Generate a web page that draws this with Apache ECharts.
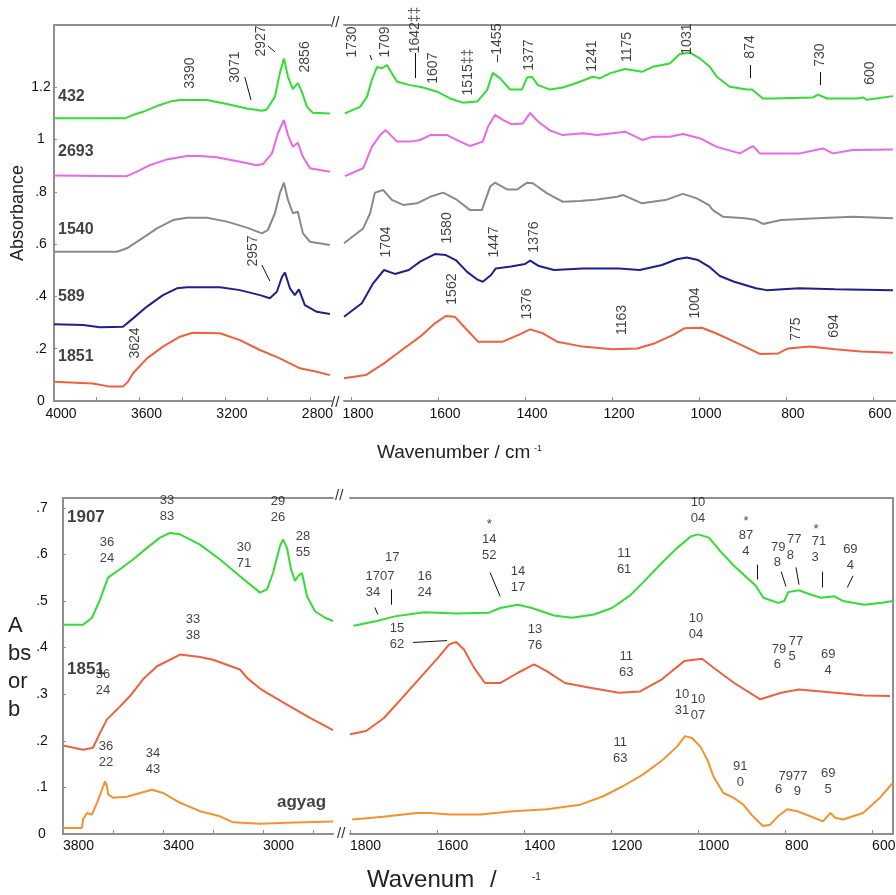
<!DOCTYPE html>
<html><head><meta charset="utf-8">
<script src="https://cdn.jsdelivr.net/npm/echarts@6/dist/echarts.min.js"></script>
<style>html,body{margin:0;padding:0;background:#fff}#c{width:896px;height:895px}</style>
</head><body><div id="c"></div>
<script>
// ---------- tick / label values ----------
const topLeftXLabels = [4000, 3600, 3200, 2800];
const topLeftXTicks = [4000, 3800, 3600, 3400, 3200, 3000, 2800];
const topRightXLabels = [1800, 1600, 1400, 1200, 1000, 800, 600];
const topRightXTicks = [1800, 1600, 1400, 1200, 1000, 800, 600];
const topYLabels = [0, 0.2, 0.4, 0.6, 0.8, 1.0, 1.2];
const botLeftXLabels = [3800, 3400, 3000];
const botLeftXTicks = [3800, 3600, 3400, 3200, 3000, 2800];
const botRightXLabels = [1800, 1600, 1400, 1200, 1000, 800, 600];
const botRightXTicks = [1800, 1600, 1400, 1200, 1000, 800, 600];
const botYLabels = [0, 0.1, 0.2, 0.3, 0.4, 0.5, 0.6, 0.7];

// ---------- top panel spectra (wavenumber, absorbance) ----------
const top432L = [[4000,1.081],[3668,1.081],[3630,1.094],[3584,1.106],[3518,1.128],[3457,1.145],[3411,1.151],[3284,1.151],[3191,1.136],[3097,1.119],[3027,1.110],[3004,1.115],[2966,1.164],[2943,1.254],[2924,1.310],[2905,1.240],[2882,1.193],[2859,1.216],[2840,1.183],[2816,1.125],[2788,1.102],[2709,1.100]];
const top432R = [[1814,1.100],[1779,1.125],[1763,1.164],[1752,1.228],[1740,1.278],[1729,1.272],[1717,1.285],[1706,1.253],[1694,1.221],[1664,1.208],[1634,1.199],[1602,1.183],[1572,1.157],[1543,1.141],[1510,1.145],[1487,1.189],[1474,1.255],[1457,1.234],[1434,1.191],[1407,1.191],[1395,1.237],[1384,1.240],[1370,1.208],[1342,1.191],[1313,1.199],[1280,1.217],[1244,1.240],[1228,1.234],[1205,1.253],[1170,1.270],[1131,1.259],[1106,1.278],[1067,1.291],[1044,1.327],[1021,1.332],[998,1.310],[975,1.278],[959,1.240],[929,1.202],[890,1.191],[878,1.191],[853,1.157],[830,1.157],[738,1.161],[726,1.172],[706,1.157],[637,1.157],[623,1.161],[614,1.152],[554,1.166]];
const top2693L = [[4000,0.862],[3659,0.860],[3612,0.877],[3551,0.902],[3471,0.924],[3378,0.937],[3317,0.937],[3238,0.932],[3130,0.915],[3050,0.902],[3022,0.906],[2980,0.947],[2952,1.024],[2924,1.075],[2905,1.017],[2882,0.972],[2859,0.988],[2835,0.934],[2802,0.890],[2709,0.877]];
const top2693R = [[1814,0.860],[1772,0.890],[1752,0.972],[1733,1.017],[1720,1.036],[1694,0.992],[1664,0.992],[1641,0.998],[1618,1.017],[1579,1.017],[1556,0.998],[1526,0.975],[1497,0.992],[1485,1.049],[1469,1.094],[1451,1.075],[1430,1.058],[1405,1.061],[1388,1.102],[1372,1.072],[1342,1.034],[1313,1.017],[1267,1.024],[1234,1.017],[1198,1.024],[1170,1.030],[1129,0.998],[1106,1.011],[1067,1.011],[1037,1.021],[998,1.005],[959,0.972],[906,0.947],[876,0.975],[860,0.947],[768,0.947],[715,0.966],[692,0.947],[646,0.960],[554,0.962]];
const top1540L = [[4000,0.571],[3705,0.571],[3659,0.584],[3598,0.616],[3518,0.660],[3443,0.692],[3378,0.701],[3284,0.701],[3191,0.686],[3097,0.663],[3027,0.641],[2999,0.654],[2966,0.718],[2943,0.795],[2924,0.835],[2905,0.769],[2882,0.718],[2859,0.724],[2835,0.641],[2802,0.609],[2709,0.597]];
const top1540R = [[1816,0.603],[1772,0.660],[1756,0.718],[1745,0.797],[1726,0.807],[1706,0.769],[1680,0.750],[1648,0.756],[1618,0.781],[1588,0.797],[1556,0.769],[1526,0.730],[1499,0.730],[1480,0.820],[1469,0.835],[1441,0.809],[1418,0.809],[1395,0.835],[1382,0.833],[1349,0.794],[1313,0.762],[1274,0.765],[1234,0.771],[1188,0.781],[1175,0.788],[1131,0.756],[1074,0.770],[1037,0.792],[1005,0.775],[977,0.749],[968,0.730],[945,0.705],[894,0.699],[869,0.692],[853,0.677],[811,0.692],[729,0.699],[646,0.705],[554,0.699]];
const top589L = [[4000,0.294],[3864,0.291],[3785,0.282],[3677,0.284],[3630,0.316],[3565,0.361],[3490,0.405],[3425,0.431],[3378,0.435],[3223,0.435],[3130,0.424],[3036,0.405],[2990,0.393],[2957,0.418],[2933,0.475],[2919,0.491],[2896,0.431],[2873,0.405],[2854,0.427],[2826,0.367],[2770,0.341],[2709,0.333]];
const top589R = [[1816,0.322],[1775,0.374],[1749,0.450],[1724,0.501],[1699,0.486],[1667,0.501],[1641,0.533],[1607,0.562],[1582,0.558],[1559,0.539],[1533,0.494],[1508,0.463],[1497,0.456],[1478,0.482],[1467,0.507],[1432,0.514],[1400,0.524],[1388,0.537],[1368,0.516],[1333,0.501],[1267,0.507],[1184,0.507],[1136,0.501],[1085,0.520],[1051,0.542],[1028,0.549],[1002,0.539],[977,0.514],[952,0.478],[919,0.456],[869,0.431],[844,0.424],[770,0.431],[687,0.427],[554,0.424]];
const top1851L = [[4000,0.074],[3818,0.067],[3738,0.055],[3677,0.055],[3654,0.074],[3630,0.106],[3565,0.163],[3490,0.208],[3411,0.246],[3350,0.261],[3223,0.259],[3130,0.233],[3036,0.195],[2943,0.163],[2849,0.125],[2770,0.112],[2709,0.099]];
const top1851R = [[1816,0.087],[1766,0.099],[1724,0.144],[1683,0.195],[1641,0.246],[1607,0.297],[1582,0.325],[1561,0.322],[1540,0.284],[1508,0.227],[1451,0.227],[1416,0.252],[1388,0.274],[1359,0.259],[1326,0.227],[1267,0.208],[1200,0.198],[1142,0.201],[1101,0.221],[1060,0.252],[1034,0.278],[993,0.280],[961,0.259],[919,0.227],[860,0.180],[818,0.182],[795,0.201],[745,0.208],[687,0.198],[628,0.189],[554,0.185]];

// ---------- bottom panel spectra ----------
const bot1907L = [[3800,0.449],[3720,0.449],[3684,0.464],[3652,0.503],[3620,0.550],[3572,0.568],[3520,0.589],[3464,0.614],[3412,0.636],[3372,0.646],[3332,0.643],[3252,0.621],[3172,0.589],[3092,0.553],[3012,0.518],[2984,0.525],[2960,0.560],[2932,0.618],[2920,0.632],[2904,0.614],[2888,0.568],[2872,0.543],[2860,0.553],[2844,0.560],[2824,0.510],[2792,0.478],[2752,0.464],[2720,0.457]];
const bot1907R = [[1792,0.447],[1738,0.457],[1697,0.467],[1630,0.476],[1556,0.473],[1480,0.475],[1455,0.485],[1414,0.492],[1382,0.485],[1331,0.469],[1290,0.464],[1239,0.471],[1198,0.485],[1156,0.512],[1124,0.542],[1083,0.582],[1048,0.614],[1016,0.639],[1000,0.643],[975,0.636],[949,0.607],[917,0.575],[883,0.546],[867,0.532],[850,0.507],[816,0.496],[802,0.500],[793,0.519],[768,0.523],[742,0.514],[717,0.507],[687,0.510],[667,0.500],[618,0.492],[577,0.496],[552,0.500]];
const bot1851L = [[3800,0.190],[3720,0.181],[3680,0.185],[3652,0.217],[3624,0.246],[3584,0.267],[3532,0.296],[3480,0.332],[3424,0.360],[3332,0.385],[3252,0.380],[3200,0.374],[3092,0.353],[3064,0.335],[3012,0.312],[2984,0.303],[2892,0.274],[2812,0.249],[2720,0.223]];
const bot1851R = [[1800,0.214],[1763,0.221],[1722,0.249],[1680,0.292],[1639,0.335],[1598,0.378],[1572,0.407],[1556,0.412],[1538,0.396],[1515,0.357],[1490,0.324],[1455,0.324],[1414,0.346],[1377,0.364],[1347,0.349],[1306,0.324],[1248,0.314],[1182,0.303],[1133,0.306],[1083,0.332],[1032,0.371],[991,0.376],[959,0.353],[917,0.324],[857,0.289],[809,0.303],[768,0.310],[685,0.303],[618,0.297],[559,0.296]];
const botAgyagL = [[3800,0.013],[3724,0.013],[3720,0.031],[3704,0.045],[3684,0.042],[3664,0.067],[3644,0.095],[3632,0.113],[3624,0.103],[3620,0.085],[3600,0.078],[3544,0.080],[3492,0.088],[3444,0.095],[3400,0.088],[3332,0.067],[3252,0.049],[3172,0.038],[3120,0.025],[3012,0.022],[2904,0.024],[2720,0.027]];
const botAgyagR = [[1795,0.031],[1724,0.037],[1646,0.045],[1616,0.045],[1570,0.042],[1501,0.042],[1425,0.049],[1347,0.053],[1271,0.063],[1218,0.081],[1172,0.103],[1126,0.128],[1080,0.160],[1048,0.188],[1030,0.210],[1014,0.206],[995,0.188],[979,0.160],[965,0.124],[942,0.088],[919,0.078],[896,0.063],[874,0.038],[851,0.017],[834,0.020],[816,0.038],[795,0.053],[772,0.049],[742,0.038],[713,0.027],[696,0.045],[685,0.035],[667,0.031],[621,0.045],[582,0.078],[552,0.110]];

// ---------- annotations (wavenumber, absorbance, text) ----------
const topSeriesNames = [[3981,1.163,'432'],[3981,0.952,'2693'],[3981,0.654,'1540'],[3981,0.398,'589'],[3981,0.168,'1851']];
const topLeftPeaks = [[3364,1.254,'3390'],[3153,1.277,'3071'],[3032,1.377,'2927'],[2826,1.316,'2856'],[3069,0.574,'2957'],[3621,0.222,'3624']];
const topLeftLeaders = [[3107,1.239,3078,1.151],[2999,1.358,2966,1.335],[3027,0.520,2990,0.459]];
const topRightPeaks = [[1798,1.373,'1730'],[1722,1.373,'1709'],[1653,1.419,'1642‡‡'],[1611,1.273,'1607'],[1531,1.258,'1515‡‡'],[1464,1.369,'–1455'],[1391,1.323,'1377'],[1246,1.319,'1241'],[1165,1.354,'1175'],[1028,1.384,'1031'],[883,1.354,'874'],[722,1.323,'730'],[607,1.254,'600'],[1720,0.608,'1704'],[1579,0.662,'1580'],[1471,0.608,'1447'],[1379,0.627,'1376'],[1568,0.428,'1562'],[1395,0.371,'1376'],[1177,0.310,'1163'],[1009,0.375,'1004'],[777,0.275,'775'],[690,0.287,'694']];
const topRightLeaders = [[1756,1.323,1752,1.304],[1653,1.331,1653,1.235],[883,1.285,883,1.235],[722,1.258,722,1.208]];
const botSeriesNames = [[3784,0.679,'1907'],[3784,0.353,'1851'],[2944,0.068,'agyag']];
const botLeftPeaks = [[3384,0.699,'33\n83'],[2940,0.696,'29\n26'],[2840,0.621,'28\n55'],[3624,0.608,'36\n24'],[3076,0.598,'30\n71'],[3280,0.443,'33\n38'],[3640,0.325,'36\n24'],[3628,0.171,'36\n22'],[3440,0.156,'34\n43']];
const botRightPeaks = [[1000,0.694,'10\n04'],[1480,0.664,'*'],[1480,0.615,'14\n52'],[1414,0.546,'14\n17'],[1703,0.593,'17'],[1731,0.553,'1707'],[1747,0.518,'34'],[1628,0.535,'16\n24'],[1170,0.585,'11\n61'],[890,0.671,'*'],[890,0.623,'87\n4'],[816,0.615,'79'],[779,0.632,'77'],[818,0.583,'8'],[788,0.598,'8'],[729,0.653,'*'],[722,0.628,'71'],[731,0.593,'3'],[650,0.593,'69\n4'],[1692,0.424,'15\n62'],[1375,0.422,'13\n76'],[1005,0.445,'10\n04'],[1165,0.364,'11\n63'],[775,0.413,'77'],[814,0.396,'79'],[818,0.364,'6'],[784,0.380,'5'],[701,0.368,'69\n4'],[1037,0.282,'10\n31'],[1000,0.271,'10\n07'],[1179,0.179,'11\n63'],[903,0.128,'91\n0'],[782,0.124,'7977'],[815,0.095,'6'],[772,0.091,'9'],[701,0.113,'69\n5']];
const botRightLeaders = [[1478,0.561,1455,0.510],[1706,0.525,1706,0.492],[1743,0.486,1736,0.471],[864,0.578,864,0.546],[809,0.563,798,0.531],[775,0.572,768,0.535],[715,0.563,715,0.529],[657,0.529,644,0.554],[1655,0.411,1577,0.415]];

// ---------- styling ----------
const FONT = '"Liberation Sans", Arial, Helvetica, sans-serif';
const AX = '#8f8f8f';
const GREEN = '#33dd33', MAGENTA = '#e868e8', GRAY = '#8a8a8a', NAVY = '#1f1f8f', RED = '#f0603c', ORANGE = '#f59230';

const fmtY = v => { if (Math.abs(v) < 1e-9) return '0'; let s = String(+v.toFixed(1)); return s.replace(/^0\./, '.'); };
const fmtX = v => String(Math.round(v));

function xBottom(g, min, max, labels, ticks, extra) {
  return {type:'value', gridIndex:g, position:'bottom', inverse:true, min, max,
    axisLine:{show:true, onZero:false, lineStyle:{color:AX, width:2}},
    axisTick:{show:true, inside:true, length:4, customValues:ticks, lineStyle:{color:AX, width:1}},
    axisLabel:Object.assign({show:true, customValues:labels, formatter:fmtX, color:'#111', fontSize:14, fontFamily:FONT, margin:6}, extra),
    splitLine:{show:false}};
}
function xTop(g, min, max) {
  return {type:'value', gridIndex:g, position:'top', inverse:true, min, max,
    axisLine:{show:true, onZero:false, lineStyle:{color:AX, width:2}},
    axisTick:{show:false}, axisLabel:{show:false}, splitLine:{show:false}};
}
function yAxisOf(g, max, showLine, labels, pos, margin, extra) {
  return Object.assign({type:'value', gridIndex:g, min:0, max, position:pos || 'left',
    axisLine:{show:showLine, onZero:false, lineStyle:{color:AX, width:2}},
    axisTick:{show:!!labels, inside:true, length:3, customValues:labels || [], lineStyle:{color:AX}},
    axisLabel:{show:!!labels, customValues:labels || [], formatter:fmtY, color:'#111', fontSize:14, fontFamily:FONT, align:'center', margin:margin || 8},
    splitLine:{show:false}}, extra || {});
}

const curves = [
  [0, top432L, GREEN], [1, top432R, GREEN],
  [0, top2693L, MAGENTA], [1, top2693R, MAGENTA],
  [0, top1540L, GRAY], [1, top1540R, GRAY],
  [0, top589L, NAVY], [1, top589R, NAVY],
  [0, top1851L, RED], [1, top1851R, RED],
  [2, bot1907L, GREEN], [3, bot1907R, GREEN],
  [2, bot1851L, RED], [3, bot1851R, RED],
  [2, botAgyagL, ORANGE], [3, botAgyagR, ORANGE]
];

const series = curves.map(([g, d, c]) => ({
  type:'line', xAxisIndex:g, yAxisIndex:g, data:d, symbol:'none', showSymbol:false,
  lineStyle:{color:c, width:2}, silent:true, z:3
}));

function annot(g, data, labelOpt, leaders) {
  const s = {type:'scatter', xAxisIndex:g, yAxisIndex:g, data, symbolSize:1, clip:false, silent:true, z:6,
    itemStyle:{color:'rgba(0,0,0,0)'},
    label:Object.assign({show:true, position:'inside', formatter:p => p.value[2], color:'#111', fontFamily:FONT, fontSize:13}, labelOpt)};
  if (leaders) {
    s.markLine = {silent:true, symbol:['none','none'], animation:false, label:{show:false},
      lineStyle:{color:'#111', width:1, type:'solid'},
      data: leaders.map(l => [{coord:[l[0], l[1]]}, {coord:[l[2], l[3]]}])};
  }
  return s;
}

series.push(annot(0, topSeriesNames, {fontSize:16, fontWeight:'bold', align:'left'}));
series.push(annot(0, topLeftPeaks, {rotate:90, fontSize:14}, topLeftLeaders));
series.push(annot(1, topRightPeaks, {rotate:90, fontSize:14}, topRightLeaders));
series.push(annot(2, botSeriesNames, {fontSize:17, fontWeight:'bold', align:'left'}));
series.push(annot(2, botLeftPeaks, {fontSize:13, lineHeight:16}));
series.push(annot(3, botRightPeaks, {fontSize:13, lineHeight:16}, botRightLeaders));

const brk = (x, y) => ({type:'text', left:x, top:y, silent:true, style:{text:'//', font:'15px ' + FONT, fill:'#333'}});
const gridBase = {outerBoundsMode:'none', containLabel:false};

const option = {
  animation:false,
  backgroundColor:'#fff',
  grid:[
    Object.assign({left:54, top:25, width:278, height:376}, gridBase),
    Object.assign({left:344, top:25, width:552, height:376}, gridBase),
    Object.assign({left:63, top:498, width:270, height:336}, gridBase),
    Object.assign({left:350, top:498, width:543, height:336}, gridBase)
  ],
  xAxis:[
    xBottom(0, 2699, 4000, topLeftXLabels, topLeftXTicks, {padding:[0,0,0,14]}),
    xBottom(1, 547, 1816, topRightXLabels, topRightXTicks, {padding:[0,0,0,14]}),
    xBottom(2, 2720, 3800, botLeftXLabels, botLeftXTicks, {align:'left', margin:5}),
    xBottom(3, 552, 1800, botRightXLabels, botRightXTicks, {align:'left', margin:5}),
    xTop(0, 2699, 4000), xTop(1, 547, 1816), xTop(2, 2720, 3800), xTop(3, 552, 1800)
  ],
  yAxis:[
    yAxisOf(0, 1.438, true, topYLabels, 'left', 13, {name:'Absorbance', nameLocation:'middle', nameRotate:90, nameGap:27,
      nameTextStyle:{fontSize:18, fontFamily:FONT, color:'#222'}}),
    yAxisOf(1, 1.438, false, null),
    yAxisOf(2, 0.721, true, botYLabels, 'left', 21),
    yAxisOf(3, 0.721, true, null, 'right')
  ],
  series,
  graphic:[
    brk(331, 15), brk(331, 395), brk(335, 488), brk(337, 826),
    {type:'text', left:377, top:443, silent:true, style:{text:'Wavenumber / cm', font:'19px ' + FONT, fill:'#222'}},
    {type:'text', left:534, top:444, silent:true, style:{text:'-1', font:'9px ' + FONT, fill:'#222'}},
    {type:'text', left:367, top:868, silent:true, style:{text:'Wavenum', font:'24px ' + FONT, fill:'#222'}},
    {type:'text', left:490, top:868, silent:true, style:{text:'/', font:'24px ' + FONT, fill:'#222'}},
    {type:'text', left:532, top:872, silent:true, style:{text:'-1', font:'10px ' + FONT, fill:'#222'}},
    {type:'text', left:8, top:612, silent:true, style:{text:'A\nbs\nor\nb', font:'22px ' + FONT, lineHeight:28, fill:'#222'}}
  ]
};

const chart = echarts.init(document.getElementById('c'), null, {renderer:'canvas'});
chart.setOption(option);
</script></body></html>
